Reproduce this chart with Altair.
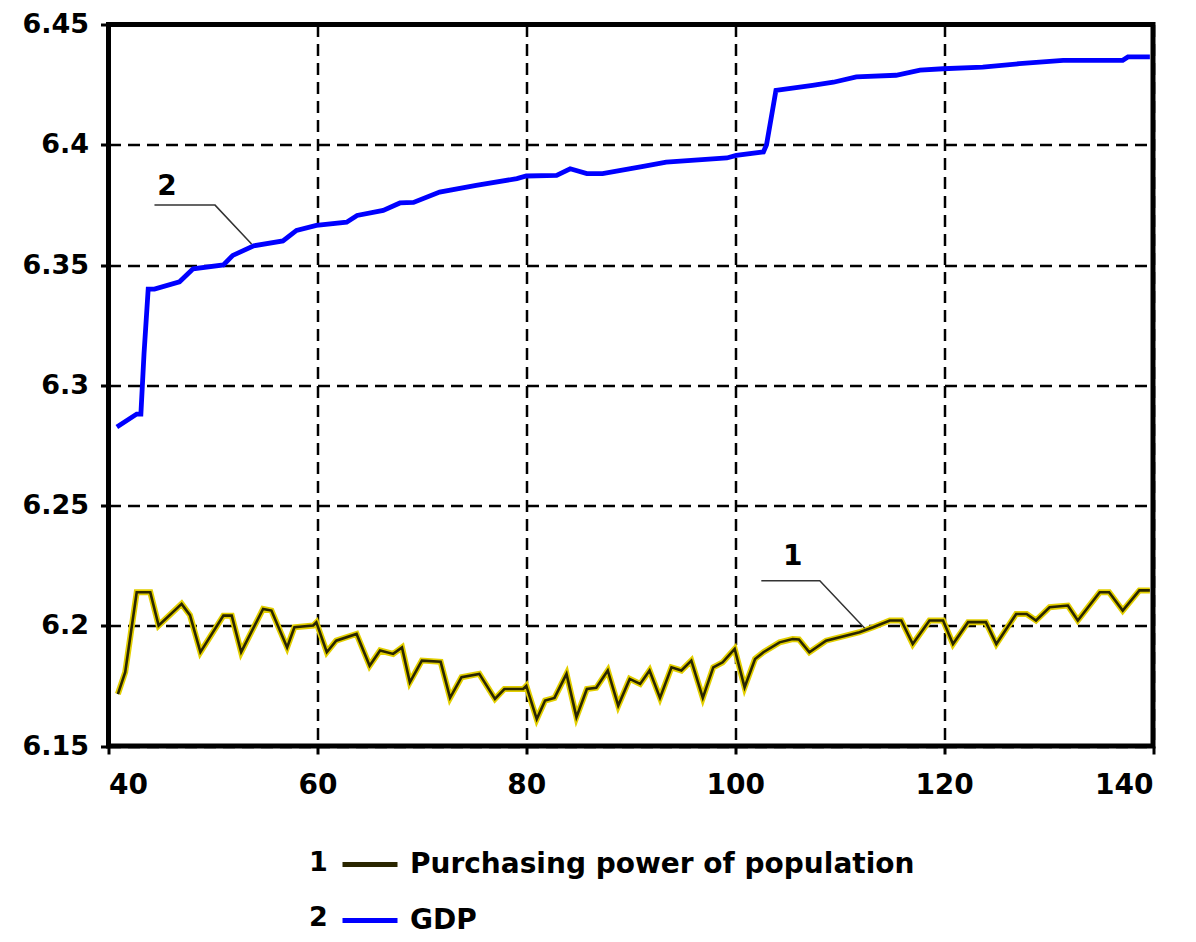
import altair as alt
import pandas as pd

# ---- data ----
gdp_x = [40.8, 42.7, 43.1, 43.4, 43.8, 44.4, 46.8, 48.1, 51.0, 51.9, 53.9, 56.7, 58.0, 59.9,
         62.8, 63.8, 66.3, 67.9, 69.2, 71.7, 75.2, 79.1, 80.0, 82.9, 84.2, 85.8, 87.3, 91.2,
         93.4, 99.2, 100.1, 102.7, 103.0, 103.6, 103.9, 107.4, 109.4, 111.6, 115.4, 117.7,
         119.9, 123.7, 127.2, 131.4, 137.1, 137.6, 139.7]
gdp_y = [6.2826, 6.288, 6.288, 6.313, 6.340, 6.340, 6.343, 6.3484, 6.350, 6.354, 6.358, 6.360,
         6.3644, 6.3665, 6.3678, 6.3706, 6.3727, 6.3758, 6.376, 6.3803, 6.3831, 6.3859, 6.387,
         6.3873, 6.390, 6.388, 6.388, 6.391, 6.3928, 6.3945, 6.3956, 6.397, 6.400, 6.415,
         6.4226, 6.4247, 6.426, 6.4282, 6.4289, 6.431, 6.4316, 6.4323, 6.4337, 6.4351, 6.4351,
         6.4365, 6.4365]

pp_x = [40.9, 41.6, 42.7, 44.0, 44.8, 47.0, 47.8, 48.8, 51.0, 51.8, 52.7, 54.8, 55.6, 57.1,
        57.8, 59.6, 59.9, 60.9, 61.8, 63.75, 65.0, 66.0, 67.25, 68.1, 68.85, 70.0, 71.8, 72.7,
        73.8, 75.5, 77.0, 77.9, 79.7, 80.0, 81.0, 81.8, 82.7, 83.85, 84.8, 85.8, 86.7, 87.8,
        88.8, 89.9, 90.9, 91.8, 92.8, 93.9, 94.85, 95.8, 96.9, 97.9, 98.8, 99.95, 100.9,
        101.9, 102.7, 104.25, 105.5, 106.1, 107.1, 108.7, 111.9, 113.2, 114.8, 115.9, 117.0,
        118.6, 119.9, 120.85, 122.3, 124.0, 125.0, 126.9, 127.9, 128.8, 130.1, 131.85, 132.8,
        134.9, 135.8, 137.1, 138.7, 139.7]
pp_y = [6.1716, 6.1807, 6.2139, 6.2139, 6.2001, 6.2091, 6.2044, 6.189, 6.2042, 6.2042, 6.189,
        6.207, 6.2063, 6.191, 6.1994, 6.2001, 6.2014, 6.189, 6.1938, 6.1966, 6.1834, 6.1897,
        6.1883, 6.191, 6.1765, 6.1855, 6.185, 6.170, 6.1786, 6.180, 6.1696, 6.1737, 6.1737,
        6.175, 6.1612, 6.1689, 6.170, 6.180, 6.162, 6.1737, 6.1742, 6.1814, 6.1668, 6.1779,
        6.1758, 6.1814, 6.170, 6.1827, 6.1814, 6.1855, 6.170, 6.1827, 6.1848, 6.1904, 6.1744,
        6.1862, 6.189, 6.1931, 6.1945, 6.1943, 6.189, 6.1938, 6.1973, 6.1994, 6.2022, 6.2022,
        6.1924, 6.2022, 6.2022, 6.1924, 6.2015, 6.2015, 6.1924, 6.2049, 6.2049, 6.2022, 6.2077,
        6.2084, 6.2022, 6.2139, 6.2139, 6.2063, 6.2147, 6.2147]

series_names = ["Purchasing power of population", "GDP"]
series_colors = ["#2a2600", "#0000ff"]
halo_color = "#e3cf00"
series_nums = ["1", "2"]

x_ticks = [40, 60, 80, 100, 120, 140]
y_ticks = [6.15, 6.2, 6.25, 6.3, 6.35, 6.4, 6.45]

# in-plot callouts
callout_text = ["1", "2"]
callout_x = [105.5, 45.6]
callout_y = [6.2285, 6.3824]
leader1_x = [102.5, 108.1, 112.4]
leader1_y = [6.2187, 6.2187, 6.199]
leader2_x = [44.4, 50.2, 53.7]
leader2_y = [6.3749, 6.3749, 6.3587]

FONT = "DejaVu Sans"

# ---- tables ----
pp_df = pd.DataFrame({"x": pp_x, "y": pp_y, "series": series_names[0], "o": range(len(pp_x))})
gdp_df = pd.DataFrame({"x": gdp_x, "y": gdp_y, "series": series_names[1], "o": range(len(gdp_x))})
leaders = pd.concat([
    pd.DataFrame({"x": leader1_x, "y": leader1_y, "g": "1", "o": range(3)}),
    pd.DataFrame({"x": leader2_x, "y": leader2_y, "g": "2", "o": range(3)}),
])
callouts = pd.DataFrame({"x": callout_x, "y": callout_y, "t": callout_text})

xs = alt.Scale(domain=[40, 140], nice=False, zero=False)
ys = alt.Scale(domain=[6.15, 6.45], nice=False, zero=False)

X = alt.X("x:Q", scale=xs, axis=alt.Axis(values=x_ticks, title=None, labelPadding=17))
Y = alt.Y("y:Q", scale=ys, axis=alt.Axis(values=y_ticks, title=None, format="~g",
                                         labelPadding=12, labelFontSize=27))

color = alt.Color("series:N",
                  scale=alt.Scale(domain=series_names, range=series_colors),
                  legend=alt.Legend(orient="none", legendX=231.5, legendY=810,
                                    direction="vertical", title=None,
                                    symbolType="stroke", symbolSize=3025,
                                    symbolStrokeWidth=5, rowPadding=12,
                                    labelFont=FONT, labelFontWeight="bold",
                                    labelFontSize=28, labelColor="black",
                                    labelOffset=10, labelLimit=1000, padding=0))

halo = alt.Chart(pp_df).mark_line(strokeWidth=6, color=halo_color).encode(
    x=X, y=Y, order="o:Q")
pp_line = alt.Chart(pp_df).mark_line(strokeWidth=2.6).encode(
    x=X, y=Y, order="o:Q", color=color)
gdp_line = alt.Chart(gdp_df).mark_line(strokeWidth=4.8).encode(
    x=X, y=Y, order="o:Q", color=color)

leader = alt.Chart(leaders).mark_line(color="#333333", strokeWidth=1.5).encode(
    x=X, y=Y, detail="g:N", order="o:Q")

callout = alt.Chart(callouts).mark_text(font=FONT, fontWeight="bold", fontSize=28,
                                        color="black").encode(x=X, y=Y, text="t:N")

num1 = alt.Chart(pd.DataFrame({"t": [series_nums[0]]})).mark_text(
    font=FONT, fontWeight="bold", fontSize=27, color="black").encode(
    text="t:N", x=alt.value(210), y=alt.value(838))
num2 = alt.Chart(pd.DataFrame({"t": [series_nums[1]]})).mark_text(
    font=FONT, fontWeight="bold", fontSize=27, color="black").encode(
    text="t:N", x=alt.value(210), y=alt.value(893))

chart = alt.layer(halo, pp_line, gdp_line, leader, callout, num1, num2).properties(
    width=1044.5, height=721.5,
    autosize=alt.AutoSizeParams(type="none"),
    padding={"left": 100.5, "top": 16.5, "right": 30, "bottom": 188},
).configure_view(stroke="black", strokeWidth=5).configure_axis(
    grid=True, gridColor="black", gridDash=[12, 7], gridWidth=2.5, gridOpacity=1,
    domain=False, tickColor="black", tickWidth=3, tickSize=8,
    labelFont=FONT, labelFontWeight="bold", labelFontSize=28, labelColor="black",
)

chart.save("out.html", embed_options={"renderer": "svg", "actions": False})
